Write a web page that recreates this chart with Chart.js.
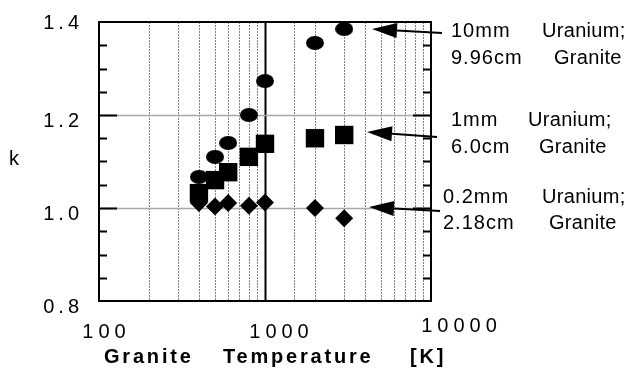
<!DOCTYPE html>
<html>
<head>
<meta charset="utf-8">
<script src="https://cdn.jsdelivr.net/npm/chart.js@4.4.1/dist/chart.umd.min.js"></script>
<style>
  html, body { margin: 0; padding: 0; background: #fff; }
  canvas { display: block; }
</style>
</head>
<body>
<canvas id="myChart" width="626" height="370"></canvas>
<script>
// Dados
const temperatures = [400, 500, 600, 800, 1000, 2000, 3000];
const k10mm = [1.067, 1.110, 1.140, 1.200, 1.273, 1.355, 1.385];
const k1mm = [1.032, 1.060, 1.077, 1.110, 1.138, 1.150, 1.157];
const k02mm = [1.011, 1.003, 1.011, 1.005, 1.012, 1.000, 0.978];

const xTickLabels = ['100', '1000', '10000'];
const yTickLabels = ['0.8', '1.0', '1.2', '1.4'];
const uraniumLabels = ['10mm', '1mm', '0.2mm'];
const graniteLabels = ['9.96cm', '6.0cm', '2.18cm'];
const xTitleWords = ['Granite', 'Temperature', '[K]'];
const yTitle = 'k';

const FONT = '"Liberation Sans", Arial, sans-serif';

function ellipseMarker(w, h) {
    const c = document.createElement('canvas');
    c.width = w; c.height = h;
    const g = c.getContext('2d');
    g.fillStyle = '#000';
    g.beginPath();
    g.ellipse(w / 2, h / 2, w / 2, h / 2, 0, 0, Math.PI * 2);
    g.fill();
    return c;
}

function pts(values) {
    return temperatures.map((t, i) => ({ x: t, y: values[i] }));
}

function near(a, b) { return Math.abs(a - b) < 1e-6; }

// grade, moldura, rótulos e setas
const decorPlugin = {
    id: 'decor',
    beforeDatasetsDraw(chart) {
        const ctx = chart.ctx;
        const xs = chart.scales.x, ys = chart.scales.y;
        const a = chart.chartArea;
        ctx.save();
        // linhas verticais
        xs.ticks.forEach(t => {
            const v = t.value;
            if (near(v, 100) || near(v, 10000)) return;
            const px = Math.round(xs.getPixelForValue(v)) + 0.5;
            ctx.beginPath();
            if (near(v, 1000)) {
                ctx.setLineDash([]);
                ctx.strokeStyle = '#000';
                ctx.lineWidth = 2;
            } else {
                ctx.setLineDash([2, 1]);
                ctx.strokeStyle = '#808080';
                ctx.lineWidth = 1;
            }
            ctx.moveTo(px, a.top);
            ctx.lineTo(px, a.bottom);
            ctx.stroke();
        });
        ctx.setLineDash([]);
        // linhas horizontais e marcas
        ys.ticks.forEach(t => {
            const v = t.value;
            const py = Math.round(ys.getPixelForValue(v)) + 0.5;
            const major = near(v, 1.0) || near(v, 1.2);
            if (major) {
                ctx.strokeStyle = '#a8a8a8';
                ctx.lineWidth = 1.5;
                ctx.beginPath();
                ctx.moveTo(a.left, py);
                ctx.lineTo(a.right, py);
                ctx.stroke();
            }
            if (near(v, 0.8) || near(v, 1.4)) return;
            const len = major ? 18 : 8;
            ctx.strokeStyle = '#000';
            ctx.lineWidth = 2;
            ctx.beginPath();
            ctx.moveTo(a.left, py);
            ctx.lineTo(a.left + len, py);
            ctx.moveTo(a.right, py);
            ctx.lineTo(a.right - len, py);
            ctx.stroke();
        });
        // moldura
        ctx.strokeStyle = '#000';
        ctx.lineWidth = 2;
        ctx.strokeRect(a.left, a.top, a.right - a.left, a.bottom - a.top);
        ctx.restore();
    },
    afterDatasetsDraw(chart) {
        const ctx = chart.ctx;
        const xs = chart.scales.x, ys = chart.scales.y;
        ctx.save();
        ctx.fillStyle = '#000';
        ctx.textBaseline = 'middle';
        ctx.font = '20px ' + FONT;

        // rótulos do eixo y
        ctx.letterSpacing = '4px';
        ctx.textAlign = 'right';
        yTickLabels.forEach(l => {
            const v = parseFloat(l);
            let py = ys.getPixelForValue(v);
            py += near(v, ys.max) ? 1 : 6;
            ctx.fillText(l, 83, py);
        });

        // rótulos do eixo x
        ctx.letterSpacing = '5px';
        ctx.textAlign = 'center';
        const xShift = [5, 14, 28];
        xTickLabels.forEach((l, i) => {
            const v = parseFloat(l);
            const px = xs.getPixelForValue(v) + xShift[i] + 2.5;
            const py = i === xTickLabels.length - 1 ? 326 : 332;
            ctx.fillText(l, px, py);
        });

        // título do eixo y
        ctx.letterSpacing = '0px';
        ctx.textAlign = 'left';
        ctx.fillText(yTitle, 9, 159);

        // título do eixo x
        ctx.font = 'bold 20px ' + FONT;
        ctx.letterSpacing = '2.8px';
        const wordX = [104, 223, 410];
        xTitleWords.forEach((w, i) => ctx.fillText(w, wordX[i], 357));

        // anotações
        ctx.font = '20px ' + FONT;
        const notes = [
            { x1: 451, u: 542, g: 554, y1: 31, y2: 58, tail: [442, 33], tip: [372, 29] },
            { x1: 451, u: 528, g: 549 - 10, y1: 120, y2: 147, tail: [437, 137], tip: [367, 132] },
            { x1: 443, u: 542, g: 549, y1: 197, y2: 223, tail: [440, 211], tip: [369, 207] }
        ];
        notes.forEach((n, i) => {
            ctx.letterSpacing = '1px';
            ctx.fillText(uraniumLabels[i], n.x1, n.y1);
            ctx.fillText(graniteLabels[i], n.x1, n.y2);
            ctx.letterSpacing = '0.3px';
            ctx.fillText('Uranium;', n.u, n.y1);
            ctx.fillText('Granite', n.g, n.y2);

            const [tx, ty] = n.tail, [hx, hy] = n.tip;
            const ang = Math.atan2(ty - hy, tx - hx);
            const hl = 25, hw = 7.5;
            const bx = hx + Math.cos(ang) * hl, by = hy + Math.sin(ang) * hl;
            ctx.strokeStyle = '#000';
            ctx.lineWidth = 2;
            ctx.beginPath();
            ctx.moveTo(tx, ty);
            ctx.lineTo(bx, by);
            ctx.stroke();
            ctx.beginPath();
            ctx.moveTo(hx, hy);
            ctx.lineTo(bx - Math.sin(ang) * hw, by + Math.cos(ang) * hw);
            ctx.lineTo(bx + Math.sin(ang) * hw, by - Math.cos(ang) * hw);
            ctx.closePath();
            ctx.fill();
        });
        ctx.restore();
    }
};

const ctx = document.getElementById('myChart').getContext('2d');

const myChart = new Chart(ctx, {
    type: 'scatter',
    data: {
        datasets: [
            {
                label: '10mm Uranium; 9.96cm Granite',
                data: pts(k10mm),
                pointStyle: ellipseMarker(18, 14),
                backgroundColor: '#000',
                borderColor: '#000'
            },
            {
                label: '1mm Uranium; 6.0cm Granite',
                data: pts(k1mm),
                pointStyle: 'rect',
                pointRadius: 13,
                borderWidth: 0,
                backgroundColor: '#000',
                borderColor: '#000'
            },
            {
                label: '0.2mm Uranium; 2.18cm Granite',
                data: pts(k02mm),
                pointStyle: 'rectRot',
                pointRadius: 9,
                borderWidth: 0,
                backgroundColor: '#000',
                borderColor: '#000'
            }
        ]
    },
    options: {
        responsive: false,
        animation: false,
        layout: { padding: { left: 99, right: 195, top: 22, bottom: 69 } },
        plugins: {
            legend: { display: false },
            tooltip: { enabled: false }
        },
        scales: {
            x: {
                type: 'logarithmic',
                min: 100,
                max: 10000,
                grid: { display: false, drawTicks: false },
                border: { display: false },
                ticks: { display: false }
            },
            y: {
                min: 0.8,
                max: 1.4,
                grid: { display: false, drawTicks: false },
                border: { display: false },
                ticks: { display: false, stepSize: 0.05 }
            }
        }
    },
    plugins: [decorPlugin]
});
</script>
</body>
</html>
